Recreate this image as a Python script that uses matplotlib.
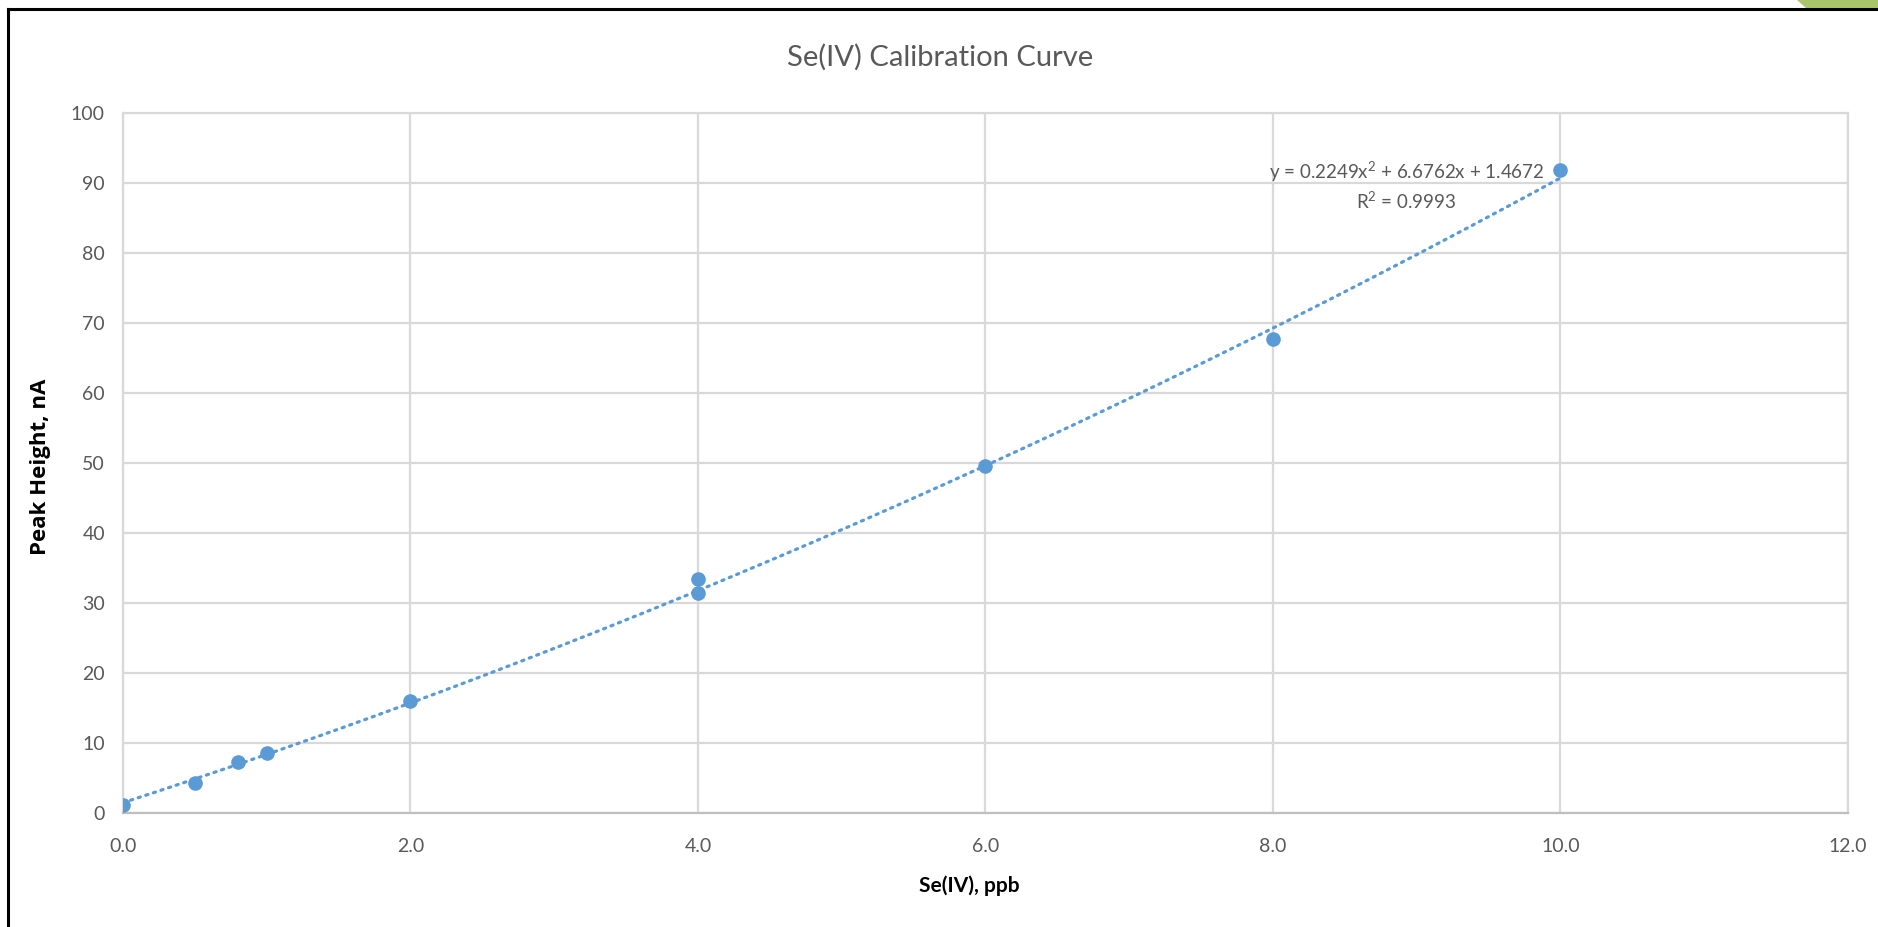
import numpy as np
import matplotlib.pyplot as plt
from matplotlib.patches import Polygon
from matplotlib.lines import Line2D

# Calibration data
conc = [0.0, 0.5, 0.8, 1.0, 2.0, 4.0, 4.0, 6.0, 8.0, 10.0]
peak = [1.1, 4.3, 7.3, 8.6, 16.0, 33.4, 31.4, 49.6, 67.7, 91.9]

# Trendline coefficients as printed on the chart (2nd order poly)
fitCoef = [0.2249, 6.6762, 1.4672]
fitLabel = r"y = 0.2249x$^{2}$ + 6.6762x + 1.4672"
r2Label = r"R$^{2}$ = 0.9993"

xTicks = [0, 2, 4, 6, 8, 10, 12]
yTicks = [0, 10, 20, 30, 40, 50, 60, 70, 80, 90, 100]

blue = '#5b9bd5'
grey = '#595959'
gridCol = '#d9d9d9'

plt.rcParams['mathtext.fontset'] = 'custom'
plt.rcParams['mathtext.rm'] = 'Lato'

fig = plt.figure(figsize=(18.78, 9.27), dpi=100)
ax = fig.add_axes([0.0655, 0.123, 0.9185, 0.7551])

xs = np.linspace(0, 10, 200)
ax.plot(xs, np.polyval(fitCoef, xs), color=blue, lw=2.3, linestyle=(0, (0.7, 1.8)),
        dash_capstyle='round', zorder=3)
ax.plot(conc, peak, 'o', color=blue, markersize=9.5, zorder=4)

ax.set_xlim(0, 12)
ax.set_ylim(0, 100)
ax.set_xticks(xTicks)
ax.set_xticklabels(['%.1f' % t for t in xTicks])
ax.set_yticks(yTicks)
ax.tick_params(length=0, labelsize=14, colors=grey)
ax.tick_params(axis='x', pad=18)
ax.tick_params(axis='y', pad=13)
for lab in ax.get_xticklabels() + ax.get_yticklabels():
    lab.set_family('Lato')

ax.grid(True, color=gridCol, lw=1.6)
ax.set_axisbelow(True)
for s in ['left', 'right', 'top']:
    ax.spines[s].set_color(gridCol)
    ax.spines[s].set_linewidth(1.6)
ax.spines['bottom'].set_color('#bfbfbf')
ax.spines['bottom'].set_linewidth(1.6)

ax.text(8.93, 91.6, fitLabel, ha='center', va='center', fontsize=13.5, color=grey, family='Lato')
ax.text(8.93, 87.4, r2Label, ha='center', va='center', fontsize=13.5, color=grey, family='Lato')

fig.text(0.5005, 0.938, 'Se(IV) Calibration Curve', ha='center', va='center',
         fontsize=21, color=grey, family='Lato')
fig.text(0.516, 0.045, 'Se(IV), ppb', ha='center', va='center', fontsize=15,
         fontweight='bold', color='black', family='Lato')
fig.text(0.0215, 0.496, 'Peak Height, nA', ha='center', va='center', rotation=90,
         fontsize=16, fontweight='bold', color='black', family='Open Sans')

# outer slide frame and the green corner decoration
W, H = 1878.0, 927.0
fig.add_artist(Line2D([8 / W, 8 / W], [0, 1 - 9 / H], transform=fig.transFigure, color='black', lw=2.2))
fig.add_artist(Line2D([8 / W, 1], [1 - 9 / H, 1 - 9 / H], transform=fig.transFigure, color='black', lw=2.2))
fig.add_artist(Polygon([[1797 / W, 1], [1, 1], [1, 1 - 8 / H], [1806 / W, 1 - 8 / H]],
                       closed=True, transform=fig.transFigure, color='#a9c56b', lw=0))

fig.savefig('out.png', dpi=100)
